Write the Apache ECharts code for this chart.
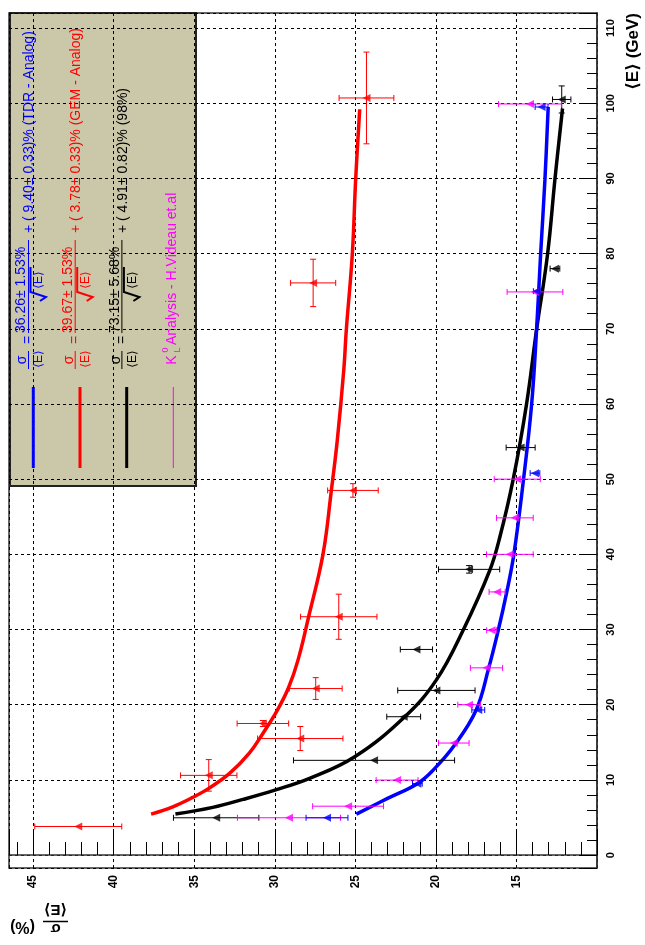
<!DOCTYPE html>
<html>
<head>
<meta charset="utf-8">
<script src="https://cdn.jsdelivr.net/npm/echarts@6/dist/echarts.min.js"></script>
<style>
html,body{margin:0;padding:0;background:#fff;}
#chart{width:645px;height:945px;}
</style>
</head>
<body>
<div id="chart"></div>
<script>
// ---------------- DATA (sigma/<E> in %, <E> in GeV) ----------------
// GEM - Analog (red)
const redSigma    = [42.2, 34.1, 28.42, 30.74, 27.46, 26.03, 25.15, 27.62, 24.31];
const redE        = [3.8, 10.6, 15.5, 17.5, 22.15, 31.7, 48.5, 76.1, 100.7];
const redSigmaErr = [2.7, 1.75, 2.65, 1.6, 1.64, 2.37, 1.57, 1.4, 1.7];
const redEErr     = [0, 2.1, 1.6, 0.4, 1.45, 3.0, 0.9, 3.15, 6.1];

// 73.15 fit points (black)
const blackSigma    = [33.64, 23.84, 22.0, 19.97, 21.21, 17.94, 14.74, 12.61, 12.19];
const blackE        = [4.96, 12.6, 18.4, 21.9, 27.35, 38.0, 54.2, 78.0, 100.5];
const blackSigmaErr = [2.65, 5.0, 1.05, 2.4, 1.0, 1.9, 0.9, 0.3, 0.57];
const blackEErr     = [0, 0, 0, 0, 0, 0.5, 0, 0, 1.8];

// K0L analysis - H.Videau (magenta)
const magSigma    = [29.12, 25.45, 22.41, 18.89, 17.94, 16.86, 16.55, 16.2, 15.41, 15.10, 14.95, 13.85, 14.16];
const magE        = [4.96, 6.5, 9.97, 14.9, 20.0, 24.9, 29.9, 35.0, 40.0, 44.85, 50.0, 74.9, 99.9];
const magSigmaErr = [3.2, 2.2, 1.3, 0.95, 0.7, 1.0, 0.3, 0.5, 1.45, 1.14, 1.43, 1.73, 1.95];

// TDR - Analog (blue)
const blueSigma    = [26.76, 21.15, 17.37, 13.85, 13.75, 13.44];
const blueE        = [4.96, 9.5, 19.3, 50.8, 75.0, 99.5];
const blueSigmaErr = [1.3, 0.3, 0.4, 0.3, 0.2, 0.4];

// Fit curves
const redCurveE     = [5.45, 6.42, 7.67, 8.87, 10.86, 13.6, 16.18, 19.28, 22.25, 25.93, 31.7, 40, 48.5, 55.2, 64.5, 69.9, 79.9, 89.9, 99.2];
const redCurveSigma = [37.68, 36.33, 35.09, 34.1, 32.81, 31.57, 30.74, 29.84, 29.15, 28.56, 27.9, 27.01, 26.49, 26.12, 25.72, 25.56, 25.19, 24.98, 24.73];

const blackCurveE     = [5.45, 6.34, 7.4, 8.64, 10.2, 13.07, 18.4, 23.3, 29.9, 37.9, 42.3, 50, 59.9, 69.9, 79.9, 89.9, 99.3];
const blackCurveSigma = [36.17, 33.85, 31.98, 30.0, 27.84, 25.04, 21.93, 19.97, 18.31, 16.65, 16.03, 15.2, 14.38, 13.75, 13.07, 12.61, 12.14];

const blueCurveE     = [5.45, 7.54, 9.5, 11.3, 14.6, 19.3, 24.9, 29.9, 35, 40, 50, 59.9, 69.9, 79.9, 89.9, 99.5];
const blueCurveSigma = [24.94, 23.0, 21.15, 20.17, 18.85, 17.5, 16.72, 16.13, 15.6, 15.16, 14.56, 14.06, 13.75, 13.5, 13.23, 13.03];

// Legend texts
const legendNumerators = ['36.26\u00b1 1.53%', '39.67\u00b1 1.53%', '73.15\u00b1 5.68%'];
const legendTails = ['+ ( 9.40\u00b1 0.33)% (TDR - Analog)', '+ ( 3.78\u00b1 0.33)% (GEM - Analog)', '+ ( 4.91\u00b1 0.82)% (98%)'];
const legendColors = ['#0000ff', '#ff0000', '#000000'];
const magLegendText = 'Analysis - H.Videau et.al';
const xTitle = '\u27e8E\u27e9 (GeV)';

// ---------------- BUILD ----------------
const FONT = '"Liberation Sans", Arial, "DejaVu Sans", sans-serif';
const zip = (a, b) => a.map((v, i) => [v, b[i]]);
const zip4 = (a, b, c, d) => a.map((v, i) => [v, b[i], c ? c[i] : 0, d ? d[i] : 0]);

function errSeries(data, color) {
  return {
    type: 'custom', data: data, encode: {x: 0, y: 1}, z: 3, silent: true,
    renderItem: function (params, api) {
      const s = api.value(0), e = api.value(1), se = api.value(2), ee = api.value(3);
      const ch = [];
      const st = {stroke: color, lineWidth: 1};
      const cap = 3;
      if (se > 0) {
        const a = api.coord([s + se, e]), b = api.coord([s - se, e]);
        ch.push({type: 'line', shape: {x1: a[0], y1: a[1], x2: b[0], y2: b[1]}, style: st});
        ch.push({type: 'line', shape: {x1: a[0], y1: a[1] - cap, x2: a[0], y2: a[1] + cap}, style: st});
        ch.push({type: 'line', shape: {x1: b[0], y1: b[1] - cap, x2: b[0], y2: b[1] + cap}, style: st});
      }
      if (ee > 0) {
        const a = api.coord([s, e + ee]), b = api.coord([s, e - ee]);
        ch.push({type: 'line', shape: {x1: a[0], y1: a[1], x2: b[0], y2: b[1]}, style: st});
        ch.push({type: 'line', shape: {x1: a[0] - cap, y1: a[1], x2: a[0] + cap, y2: a[1]}, style: st});
        ch.push({type: 'line', shape: {x1: b[0] - cap, y1: b[1], x2: b[0] + cap, y2: b[1]}, style: st});
      }
      return {type: 'group', children: ch};
    }
  };
}
function markSeries(data, color) {
  return {type: 'scatter', data: data, symbol: 'triangle', symbolRotate: 90, symbolSize: 8,
    itemStyle: {color: color}, z: 4, silent: true};
}
function curveSeries(data, color) {
  return {type: 'line', data: data, showSymbol: false, smooth: 0.4, z: 2, silent: true,
    lineStyle: {color: color, width: 3.5}};
}

// Legend (drawn in the original orientation, then rotated 90deg CCW)
const L = [];
L.push({type: 'rect', shape: {x: 0, y: 0, width: 473, height: 186},
  style: {fill: '#cbc7a9', stroke: '#222', lineWidth: 2}});
function txt(u, v, t, color, size, align, bold) {
  return {type: 'text', x: u, y: v, style: {text: t, fill: color,
    font: (bold ? 'bold ' : '') + size + 'px ' + FONT,
    align: align || 'center', verticalAlign: 'middle', textAlign: align || 'center', textVerticalAlign: 'middle'}};
}
function ln(u1, v1, u2, v2, color, w) {
  return {type: 'line', shape: {x1: u1, y1: v1, x2: u2, y2: v2}, style: {stroke: color, lineWidth: w}};
}
for (let i = 0; i < 3; i++) {
  const v0 = i * 46.7, c = legendColors[i];
  L.push(ln(18, v0 + 23.3, 99, v0 + 23.3, c, 3));
  L.push(txt(126, v0 + 12.5, '\u03c3', c, 14));
  L.push(ln(117, v0 + 18.5, 135, v0 + 18.5, c, 1));
  L.push(txt(127, v0 + 29, '\u27e8E\u27e9', c, 12));
  L.push(txt(146, v0 + 18.5, '=', c, 14));
  L.push(txt(153, v0 + 11.5, legendNumerators[i], c, 14, 'left'));
  L.push(ln(153, v0 + 18.5, 246, v0 + 18.5, c, 1));
  L.push({type: 'polyline', shape: {points: [[219, v0 + 20.5], [194, v0 + 20.5], [189, v0 + 36], [185, v0 + 30]]},
    style: {stroke: c, lineWidth: 2, fill: null}});
  L.push(txt(206, v0 + 29, '\u27e8E\u27e9', c, 12));
  L.push(txt(253, v0 + 19.5, legendTails[i], c, 14, 'left'));
}
L.push(ln(18, 163.3, 99, 163.3, '#ff00ff', 1));
L.push(txt(126, 162, 'K', '#ff00ff', 14));
L.push(txt(136, 155.5, '0', '#ff00ff', 9));
L.push(txt(136, 168, 'L', '#ff00ff', 9));
L.push(txt(141, 162, magLegendText, '#ff00ff', 14, 'left'));

const graphics = [
  {type: 'group', x: 10, y: 486, rotation: Math.PI / 2, z: 100, silent: true, children: L},
  // energy axis title, reading upwards at the top right
  {type: 'text', x: 633, y: 13, rotation: Math.PI / 2, z: 100,
    style: {text: xTitle, fill: '#000', font: 'bold 17px ' + FONT,
      align: 'right', verticalAlign: 'middle', textAlign: 'right', textVerticalAlign: 'middle'}},
  // resolution axis title, upside down at the bottom left
  {type: 'text', x: 22.5, y: 926.5, rotation: Math.PI, z: 100,
    style: {text: '(%)', fill: '#000', font: 'bold 16px ' + FONT,
      align: 'center', verticalAlign: 'middle', textAlign: 'center', textVerticalAlign: 'middle'}},
  {type: 'text', x: 55.5, y: 909, rotation: Math.PI, z: 100,
    style: {text: '\u27e8E\u27e9', fill: '#000', font: 'bold 15px ' + FONT,
      align: 'center', verticalAlign: 'middle', textAlign: 'center', textVerticalAlign: 'middle'}},
  {type: 'line', z: 100, shape: {x1: 43, y1: 921.5, x2: 68, y2: 921.5}, style: {stroke: '#000', lineWidth: 1.5}},
  {type: 'text', x: 55.5, y: 928, rotation: Math.PI, z: 100,
    style: {text: '\u03c3', fill: '#000', font: 'bold 15px ' + FONT,
      align: 'center', verticalAlign: 'middle', textAlign: 'center', textVerticalAlign: 'middle'}}
];

const dashed = {color: '#000', type: [3, 3], width: 1};
const option = {
  animation: false,
  backgroundColor: '#fff',
  grid: {left: 9, right: 48, top: 13, bottom: 77, show: true, borderColor: '#333', borderWidth: 1.5, containLabel: false},
  xAxis: {
    type: 'value', min: 10, max: 46.5, interval: 5, inverse: true, position: 'bottom',
    axisLine: {show: true, lineStyle: {color: '#333', width: 1.5}},
    axisTick: {show: true, inside: true, length: 26, lineStyle: {color: '#000', width: 1}},
    minorTick: {show: true, splitNumber: 5, length: 13, lineStyle: {color: '#000', width: 1}},
    axisLabel: {rotate: 90, margin: 7, fontSize: 12, fontWeight: 'bold', color: '#000', fontFamily: FONT,
      showMinLabel: false, showMaxLabel: false},
    splitLine: {show: true, lineStyle: dashed}
  },
  yAxis: {
    type: 'value', min: -1.72, max: 112, position: 'right', splitNumber: 11, minInterval: 10, maxInterval: 10,
    axisLine: {show: true, lineStyle: {color: '#333', width: 1.5}},
    axisTick: {show: true, inside: true, length: 18, lineStyle: {color: '#000', width: 1}},
    minorTick: {show: true, splitNumber: 5, length: 10, lineStyle: {color: '#000', width: 1}},
    axisLabel: {rotate: 90, margin: 8, fontSize: 11, fontWeight: 'bold', color: '#000', fontFamily: FONT,
      showMinLabel: false, showMaxLabel: false},
    splitLine: {show: true, lineStyle: dashed}
  },
  series: [
    curveSeries(zip(redCurveSigma, redCurveE), '#ff0000'),
    curveSeries(zip(blackCurveSigma, blackCurveE), '#000000'),
    curveSeries(zip(blueCurveSigma, blueCurveE), '#0000ff'),
    errSeries(zip4(redSigma, redE, redSigmaErr, redEErr), '#ff0000'),
    errSeries(zip4(blackSigma, blackE, blackSigmaErr, blackEErr), '#000000'),
    errSeries(zip4(magSigma, magE, magSigmaErr, null), '#ff00ff'),
    errSeries(zip4(blueSigma, blueE, blueSigmaErr, null), '#0000ff'),
    markSeries(zip(redSigma, redE), '#ff0000'),
    markSeries(zip(blackSigma, blackE), '#000000'),
    markSeries(zip(magSigma, magE), '#ff00ff'),
    markSeries(zip(blueSigma, blueE), '#0000ff')
  ],
  graphic: graphics
};
const chart = echarts.init(document.getElementById('chart'), null, {renderer: 'canvas'});
chart.setOption(option);
</script>
</body>
</html>
